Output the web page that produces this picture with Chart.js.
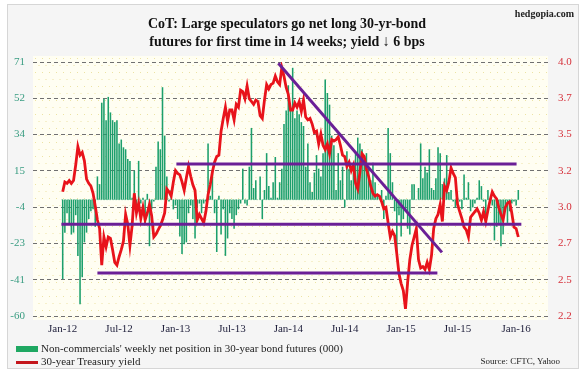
<!DOCTYPE html>
<html>
<head>
<meta charset="utf-8">
<script src="https://cdn.jsdelivr.net/npm/chart.js@4.4.1/dist/chart.umd.min.js"></script>
<style>
  html, body { margin: 0; padding: 0; background: #fff; }
  #wrap { position: relative; width: 584px; height: 374px; overflow: hidden; font-family: "Liberation Serif", "DejaVu Serif", serif; }
  #frame { position: absolute; left: 7px; top: 4px; width: 570px; height: 363px; border: 1px solid #d6d6d6; background: #f5f5f5; }
  canvas { position: absolute; left: 0; top: 0; }
  .title { position: absolute; left: 0; width: 574px; text-align: center; font-weight: bold; font-size: 15.5px; color: #111; line-height: 18px; transform: scaleX(0.9); transform-origin: 287px 0; }
  .site { position: absolute; right: 10px; top: 8px; font-weight: bold; font-size: 10px; color: #222; }
  .leg { position: absolute; left: 16px; font-size: 11px; color: #222; white-space: nowrap; line-height: 13px; }
  .sw { display: inline-block; width: 22px; vertical-align: middle; margin-right: 3px; }
  .sw.g { height: 6px; background: #1fa862; }
  .sw.r { height: 3px; background: #c4161c; }
  .src { position: absolute; right: 24px; top: 356px; font-size: 9px; color: #222; }
</style>
</head>
<body>
<div id="wrap">
  <div id="frame"></div>
  <canvas id="c" width="584" height="374"></canvas>
  <div class="title" style="top:14px">CoT: Large speculators go net long 30-yr-bond<br>futures for first time in 14 weeks; yield ↓ 6 bps</div>
  <div class="site">hedgopia.com</div>
  <div class="leg" style="top:342px"><span class="sw g"></span>Non-commercials' weekly net position in 30-year bond futures (000)</div>
  <div class="leg" style="top:355px"><span class="sw r"></span>30-year Treasury yield</div>
  <div class="src">Source: CFTC, Yahoo</div>
</div>
<script>
// weekly net position (000 contracts), first week of Jan-2012 to mid Jan-2016
const netPosition = [
  -41, -17, -7, -13, -18, -17, -8, -29, -54, -40,
  -22, -17, -10, -6, -5, -14, 12, 8, 50, 52,
  41, 53, 45, 41, 40, 41, 29, 31, 27, 26,
  21, 20, 1, 15, -5, 20, -2, 1, -13, 3,
  -24, -5, -1, 17, 30, 26, 58, 33, 12, -1,
  5, -5, -3, -10, -19, -28, -23, -22, -7, -3,
  -10, -20, -4, -2, -7, -2, -1, 29, 2, 15,
  -7, -27, 2, -18, -5, -29, -20, -7, -10, -15,
  -8, -5, -2, 16, -2, -3, 17, 37, 6, 10,
  0, 12, -10, 5, 24, 7, 1, 9, 22, 1,
  9, 16, 39, 46, 59, 48, 68, 42, 46, 44,
  40, 38, 17, 29, 9, 4, 14, 23, 16, 12,
  24, 62, 55, 49, 33, 28, 5, 24, 10, 17,
  -4, 25, 16, 10, 14, 24, 32, 29, 26, 22,
  24, 16, 10, 19, 9, 2, 2, 5, -10, 2,
  37, 24, 9, -6, -31, -8, -19, -10, -6, -15,
  -18, 8, 8, 0, 6, 29, 11, 17, 14, 26,
  6, 5, 11, 27, 24, 8, 11, 23, 4, 5,
  -1, -4, 1, -1, -5, 13, 1, 9, -6, -4,
  -2, 1, 10, 7, -1, -12, 5, -1, -3, -21,
  -14, -12, -24, -18, -5, -12, -6, -2, -1, -3,
  5
];

// 30-year Treasury yield (%), same weeks
const yield30 = [
  3.08, 3.15, 3.14, 3.16, 3.14, 3.16, 3.27, 3.40, 3.34, 3.36,
  3.30, 3.17, 3.14, 3.12, 3.07, 2.98, 2.88, 2.82, 2.56, 2.76,
  2.69, 2.76, 2.75, 2.67, 2.58, 2.56, 2.62, 2.67, 2.73, 2.92,
  2.85, 2.70, 2.84, 3.07, 2.93, 3.00, 2.89, 2.97, 2.88, 2.93,
  2.99, 2.91, 2.76, 2.78, 2.81, 2.84, 2.88, 2.93, 3.10, 3.08,
  3.05, 3.15, 3.23, 3.21, 3.20, 3.15, 3.09, 3.18, 3.26, 3.19,
  3.13, 3.09, 2.88, 2.92, 2.89, 2.86, 2.94, 3.06, 3.13, 3.22,
  3.29, 3.33, 3.34, 3.51, 3.60, 3.68, 3.58, 3.66, 3.66, 3.59,
  3.70, 3.68, 3.80, 3.79, 3.74, 3.83, 3.74, 3.72, 3.70, 3.73,
  3.72, 3.62, 3.60, 3.73, 3.84, 3.81, 3.84, 3.85, 3.90, 3.86,
  3.84, 3.96, 3.90, 3.82, 3.77, 3.66, 3.66, 3.71, 3.68, 3.72,
  3.65, 3.73, 3.61, 3.59, 3.60, 3.56, 3.50, 3.51, 3.42, 3.49,
  3.41, 3.38, 3.42, 3.35, 3.45, 3.44, 3.45, 3.47, 3.41, 3.34,
  3.33, 3.26, 3.29, 3.23, 3.27, 3.14, 3.10, 3.22, 3.35, 3.33,
  3.24, 3.19, 3.12, 3.07, 3.05, 3.06, 3.05, 3.01, 2.96, 2.97,
  2.86, 2.76, 2.80, 2.77, 2.64, 2.50, 2.43, 2.38, 2.25, 2.44,
  2.60, 2.70, 2.76, 2.82, 2.60, 2.54, 2.55, 2.53, 2.58, 2.53,
  2.63, 2.82, 2.89, 2.92, 2.99, 2.87, 3.12, 3.09, 3.15, 3.25,
  3.21, 3.18, 2.99, 2.94, 2.89, 2.83, 2.81, 2.76, 2.90, 2.92,
  2.94, 2.96, 2.93, 2.88, 2.94, 2.87, 2.95, 3.02, 3.08, 3.05,
  3.03, 2.97, 2.92, 2.88, 2.97, 3.00, 3.01, 2.93, 2.83, 2.82,
  2.76
];

// x labels sit on the first week of each Jan / Jul (week index)
const xTickWeeks  = [0, 26, 52, 78, 104, 130, 156, 182, 209];
const xTickLabels = ["Jan-12", "Jul-12", "Jan-13", "Jul-13", "Jan-14", "Jul-14", "Jan-15", "Jul-15", "Jan-16"];

// axis ranges and their (evenly spaced) tick labels
const leftMin = -60, leftMax = 71;
const leftTickLabels  = ["-60", "-41", "-23", "-4", "15", "34", "52", "71"];
const rightMin = 2.2, rightMax = 4.0;
const rightTickLabels = ["2.2", "2.5", "2.7", "3.0", "3.2", "3.5", "3.7", "4.0"];

// hand-drawn trend lines, in (week, yield) units
const upperBand   = [{ x: 52.4, y: 3.277 }, { x: 209.2, y: 3.277 }];
const middleBand  = [{ x: -0.6, y: 2.85 },  { x: 211.4, y: 2.85 }];
const lowerBand   = [{ x: 16.0, y: 2.505 }, { x: 172.7, y: 2.505 }];
const downTrend   = [{ x: 99.4, y: 3.991 }, { x: 174.8, y: 2.651 }];

const SERIF = "'Liberation Serif', 'DejaVu Serif', serif";

// cream plot area with faint yellow dots
const plotBg = {
  id: "plotBg",
  beforeDraw(chart) {
    const { ctx, chartArea: a } = chart;
    ctx.save();
    ctx.fillStyle = "#fffef2";
    ctx.fillRect(a.left, a.top - 6, a.right - a.left, a.bottom - a.top + 10);
    ctx.fillStyle = "#ece3a4";
    let row = 0;
    for (let y = a.top - 4; y < a.bottom + 3; y += 7, row++) {
      for (let x = a.left + 2 + (row % 2) * 3.5; x < a.right; x += 7) ctx.fillRect(x, y, 1, 1);
    }
    ctx.restore();
  },
};

function evenTicks(min, max, n) {
  const out = [];
  for (let k = 0; k < n; k++) out.push({ value: min + (k * (max - min)) / (n - 1) });
  return out;
}

const trend = (data) => ({
  type: "line", data, yAxisID: "yR", borderColor: "#6a1f96", borderWidth: 3,
  pointRadius: 0, clip: false, order: 0,
});

new Chart(document.getElementById("c"), {
  data: {
    datasets: [
      trend(upperBand), trend(middleBand), trend(lowerBand), trend(downTrend),
      {
        type: "line",
        data: yield30.map((v, i) => ({ x: i, y: v })),
        yAxisID: "yR",
        borderColor: "#e8131b",
        borderWidth: 2.8,
        pointRadius: 0,
        tension: 0,
        order: 1,
      },
      {
        type: "bar",
        data: netPosition.map((v, i) => ({ x: i, y: v })),
        yAxisID: "yL",
        backgroundColor: "#1c9f6c",
        barPercentage: 0.72,
        categoryPercentage: 1,
        order: 2,
      },
      {
        type: "line",
        data: [{ x: -0.5, y: 0 }, { x: netPosition.length - 0.5, y: 0 }],
        yAxisID: "yL",
        borderColor: "#5cb88f",
        borderWidth: 1,
        borderDash: [1, 2],
        pointRadius: 0,
        order: 3,
      },
    ],
  },
  options: {
    responsive: false,
    devicePixelRatio: 1,
    animation: false,
    layout: { padding: { top: 62, bottom: 32, left: 0, right: 0 } },
    plugins: { legend: { display: false }, tooltip: { enabled: false } },
    scales: {
      x: {
        type: "linear",
        min: -0.5,
        max: netPosition.length - 0.5,
        grid: { display: false, drawTicks: false },
        border: { display: false },
        afterBuildTicks: (s) => { s.ticks = xTickWeeks.map((v) => ({ value: v })); },
        afterFit: (s) => { s.height = 26; },
        ticks: {
          autoSkip: false, maxRotation: 0, padding: 7,
          color: "#1e1e3a", font: { family: SERIF, size: 11 },
          callback: (v, i) => xTickLabels[i],
        },
      },
      yL: {
        position: "left",
        min: leftMin, max: leftMax,
        border: { display: false, dash: [4, 3] },
        grid: { color: "#707070", lineWidth: 1, drawTicks: false },
        afterBuildTicks: (s) => { s.ticks = evenTicks(leftMin, leftMax, leftTickLabels.length); },
        afterFit: (s) => { s.width = 33; },
        ticks: {
          padding: 8, color: "#3a9d82", font: { family: SERIF, size: 11 },
          callback: (v, i) => leftTickLabels[i],
        },
      },
      yR: {
        position: "right",
        min: rightMin, max: rightMax,
        border: { display: false },
        grid: { display: false, drawTicks: false },
        afterBuildTicks: (s) => { s.ticks = evenTicks(rightMin, rightMax, rightTickLabels.length); },
        afterFit: (s) => { s.width = 36; },
        ticks: {
          padding: 10, color: "#d6303a", font: { family: SERIF, size: 11 },
          callback: (v, i) => rightTickLabels[i],
        },
      },
    },
  },
  plugins: [plotBg],
});
</script>
</body>
</html>
